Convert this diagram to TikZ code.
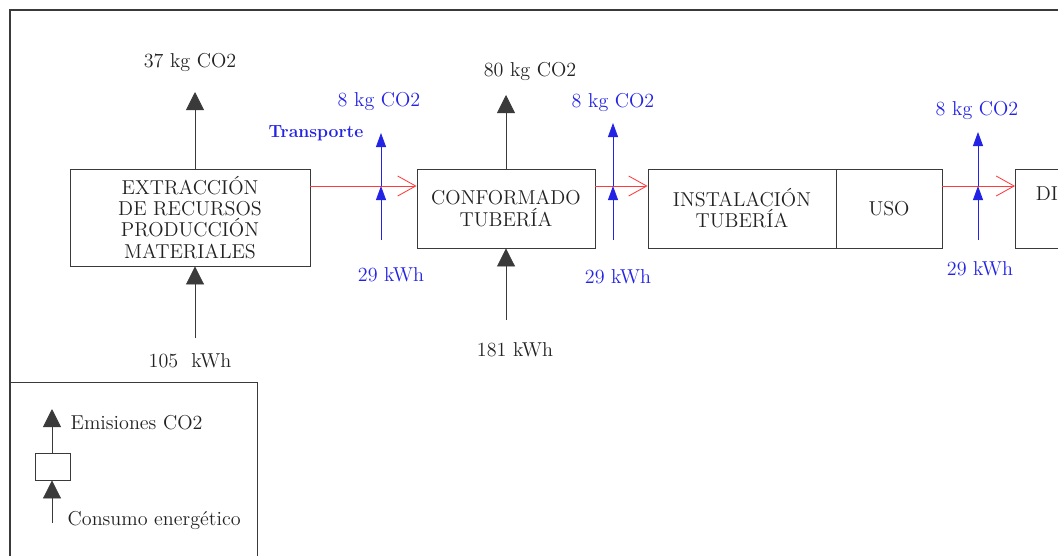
\documentclass[tikz,border=0pt]{standalone}
\usepackage{tikz}
\usetikzlibrary{calc,arrows.meta}
\usetikzlibrary{positioning}
\definecolor{lca-text}{HTML}{222222}
\definecolor{lca-line}{HTML}{3A3A3A}
\definecolor{lca-blue}{HTML}{2323E6}
\definecolor{lca-red}{HTML}{FF3B3B}

\begin{document}
\begin{tikzpicture}[
    x=0.025cm, y=-0.025cm,
    font=\fontsize{14.3}{15}\selectfont,
    text=lca-text
  ]

  % Styles for process boxes and flows
  \tikzset{
    box/.style={draw=lca-line, line width=0.6pt, minimum height=1.975cm, inner sep=2pt, align=center, text=lca-text},
    emis/.style={draw=lca-line, line width=0.6pt, -{Triangle[width=0.45cm, length=0.45cm]}, lca-line},
    trans/.style={draw=lca-blue, line width=0.6pt, -{Triangle[width=0.25cm, length=0.35cm]}, lca-blue},
    flow/.style={draw=lca-red, line width=0.6pt, -{Straight Barb[width=0.5cm, length=0.45cm]}},
    lbl/.style={text=lca-text, inner sep=1pt},
    tlbl/.style={text=lca-blue, inner sep=1pt}
  }

  \useasboundingbox (0,0) rectangle (1058,555);
  \clip (0,0) rectangle (1058,555);

  % Outer frame
  \draw[lca-line, line width=0.9pt] (10,570) -- (10,10) -- (1080,10);

  % Process chain
  \node (extr) [box, minimum width=6cm, minimum height=2.425cm] at (190,217.5)
    {EXTRACCIÓN\\DE RECURSOS\\PRODUCCIÓN\\MATERIALES};
  \node (conf) [box, minimum width=4.45cm] at (506,208.5) {CONFORMADO\\TUBERÍA};
  \node (inst) [box, minimum width=4.7cm] at (742,208.5) {INSTALACIÓN\\TUBERÍA};
  \node (uso)  [box, minimum width=2.65cm, right=-0.6pt of inst] {USO};
  \node (disp) [box, minimum width=2.5cm, anchor=west] at (1015,208.5) {};
  \node[lbl] at (1047,194) {DI};

  % Main material flow (red)
  \coordinate (rail) at (0,186);
  \draw[flow] (extr.east |- rail) -- (conf.west |- rail);
  \draw[flow] (conf.east |- rail) -- (inst.west |- rail);
  \draw[flow] (uso.east |- rail) -- (disp.west |- rail);

  % Emissions and energy of each stage
  \coordinate (e1) at (195,92);
  \coordinate (c1) at (195,338);
  \draw[emis] (e1 |- extr.north) -- (e1);
  \draw[emis] (c1) -- (c1 |- extr.south);
  \node[lbl] at (190,62) {37 kg CO2};
  \node[lbl] at (190,361) {105\ \ kWh};

  \coordinate (e2) at (506,95);
  \coordinate (c2) at (506,320);
  \draw[emis] (e2 |- conf.north) -- (e2);
  \draw[emis] (c2) -- (c2 |- conf.south);
  \node[lbl] at (530,71) {80 kg CO2};
  \node[lbl] at (515,350) {181 kWh};

  % Transport steps (blue)
  \node[tlbl, font=\fontsize{12.5}{14}\selectfont\bfseries] at (316,133) {Transporte};

  \coordinate (t1) at (381,186);
  \coordinate (t1top) at (381,133);
  \coordinate (t1bot) at (381,240);
  \draw[trans] (t1bot) -- (t1);
  \draw[trans] (t1) -- (t1top);
  \node[tlbl] at (379,101) {8 kg CO2};
  \node[tlbl] at (391,275) {29 kWh};

  \coordinate (t2) at (613,186);
  \coordinate (t2top) at (613,123);
  \coordinate (t2bot) at (613,240);
  \draw[trans] (t2bot) -- (t2);
  \draw[trans] (t2) -- (t2top);
  \node[tlbl] at (613,102) {8 kg CO2};
  \node[tlbl] at (618,277) {29 kWh};

  \coordinate (t3) at (978,186);
  \coordinate (t3top) at (978,132);
  \coordinate (t3bot) at (978,240);
  \draw[trans] (t3bot) -- (t3);
  \draw[trans] (t3) -- (t3top);
  \node[tlbl] at (977,110) {8 kg CO2};
  \node[tlbl] at (980,269) {29 kWh};

  % Legend
  \draw[lca-line, line width=0.6pt] (10,382) -- (257,382) -- (257,570);
  \node (leg) [draw=lca-line, line width=0.6pt, minimum width=0.875cm, minimum height=0.675cm, inner sep=0pt] at (52.5,466.5) {};
  \coordinate (legtop) at (52,409);
  \coordinate (legbot) at (52,523);
  \draw[emis] (legtop |- leg.north) -- (legtop);
  \draw[emis] (legbot) -- (legbot |- leg.south);
  \node[lbl, anchor=west] at (69,423) {Emisiones CO2};
  \node[lbl, anchor=west] at (66,520) {Consumo energético};

\end{tikzpicture}
\end{document}
